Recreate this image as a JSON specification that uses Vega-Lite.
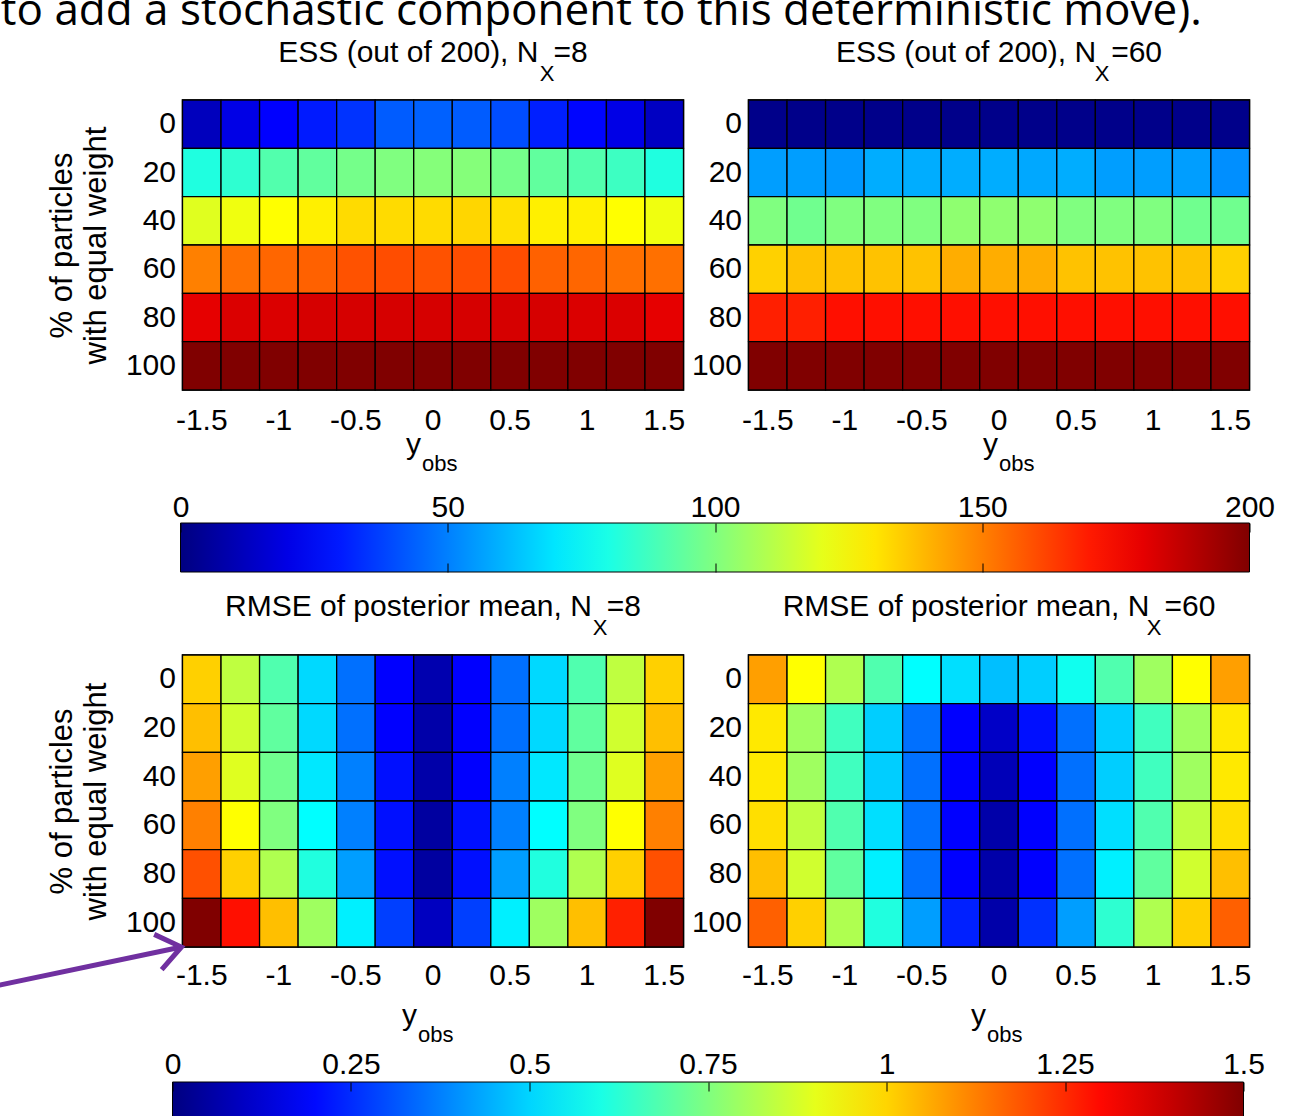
{
  "$schema": "https://vega.github.io/schema/vega-lite/v6.json",
  "background": "white",
  "padding": {"left": -30.5, "top": -10, "right": 0, "bottom": -6},
  "title": {"text": "to add a stochastic component to this deterministic move).", "anchor": "start", "frame": "bounds", "font": "Open Sans", "fontSize": 44, "fontWeight": "normal", "color": "black", "offset": 3, "dx": 31},
  "columns": 2,
  "bounds": "flush",
  "spacing": {"row": 265, "column": 65},
  "resolve": {"scale": {"color": "independent", "x": "independent", "y": "independent"}},
  "config": {
    "font": "Liberation Sans",
    "view": {"stroke": "black", "strokeWidth": 1.5},
    "axis": {"domain": false, "ticks": false, "grid": false, "labelFont": "Liberation Sans", "labelFontSize": 30, "labelColor": "black", "titleFont": "Liberation Sans", "titleFontWeight": "normal", "titleColor": "black", "labelAngle": 0, "labelOverlap": false},
    "axisY": {"labelPadding": 7},
    "title": {"font": "Liberation Sans", "fontSize": 30, "fontWeight": "normal", "color": "black"},
    "legend": {"padding": 0, "labelFont": "Liberation Sans", "labelFontSize": 30, "labelColor": "black"}
  },
  "datasets": {
    "ess8": [
      {"x":-1.5,"p":0,"v":12},{"x":-1.25,"p":0,"v":20},{"x":-1,"p":0,"v":25},{"x":-0.75,"p":0,"v":30},{"x":-0.5,"p":0,"v":35},{"x":-0.25,"p":0,"v":43},{"x":0,"p":0,"v":44},{"x":0.25,"p":0,"v":43},{"x":0.5,"p":0,"v":40},{"x":0.75,"p":0,"v":31},{"x":1,"p":0,"v":26},{"x":1.25,"p":0,"v":20},{"x":1.5,"p":0,"v":13},
      {"x":-1.5,"p":20,"v":81},{"x":-1.25,"p":20,"v":84},{"x":-1,"p":20,"v":91},{"x":-0.75,"p":20,"v":94},{"x":-0.5,"p":20,"v":98},{"x":-0.25,"p":20,"v":100},{"x":0,"p":20,"v":101},{"x":0.25,"p":20,"v":101},{"x":0.5,"p":20,"v":98},{"x":0.75,"p":20,"v":94},{"x":1,"p":20,"v":91},{"x":1.25,"p":20,"v":87},{"x":1.5,"p":20,"v":81},
      {"x":-1.5,"p":40,"v":119},{"x":-1.25,"p":40,"v":122},{"x":-1,"p":40,"v":125},{"x":-0.75,"p":40,"v":128},{"x":-0.5,"p":40,"v":132},{"x":-0.25,"p":40,"v":132},{"x":0,"p":40,"v":132},{"x":0.25,"p":40,"v":133},{"x":0.5,"p":40,"v":131},{"x":0.75,"p":40,"v":128},{"x":1,"p":40,"v":128},{"x":1.25,"p":40,"v":125},{"x":1.5,"p":40,"v":122},
      {"x":-1.5,"p":60,"v":150},{"x":-1.25,"p":60,"v":153},{"x":-1,"p":60,"v":155},{"x":-0.75,"p":60,"v":156},{"x":-0.5,"p":60,"v":159},{"x":-0.25,"p":60,"v":160},{"x":0,"p":60,"v":159},{"x":0.25,"p":60,"v":160},{"x":0.5,"p":60,"v":160},{"x":0.75,"p":60,"v":156},{"x":1,"p":60,"v":155},{"x":1.25,"p":60,"v":153},{"x":1.5,"p":60,"v":153},
      {"x":-1.5,"p":80,"v":180},{"x":-1.25,"p":80,"v":182},{"x":-1,"p":80,"v":182},{"x":-0.75,"p":80,"v":183},{"x":-0.5,"p":80,"v":183},{"x":-0.25,"p":80,"v":183},{"x":0,"p":80,"v":183},{"x":0.25,"p":80,"v":183},{"x":0.5,"p":80,"v":183},{"x":0.75,"p":80,"v":183},{"x":1,"p":80,"v":182},{"x":1.25,"p":80,"v":182},{"x":1.5,"p":80,"v":180},
      {"x":-1.5,"p":100,"v":200},{"x":-1.25,"p":100,"v":200},{"x":-1,"p":100,"v":200},{"x":-0.75,"p":100,"v":200},{"x":-0.5,"p":100,"v":200},{"x":-0.25,"p":100,"v":200},{"x":0,"p":100,"v":200},{"x":0.25,"p":100,"v":200},{"x":0.5,"p":100,"v":200},{"x":0.75,"p":100,"v":200},{"x":1,"p":100,"v":200},{"x":1.25,"p":100,"v":200},{"x":1.5,"p":100,"v":200}
    ],
    "ess60": [
      {"x":-1.5,"p":0,"v":2},{"x":-1.25,"p":0,"v":2},{"x":-1,"p":0,"v":2},{"x":-0.75,"p":0,"v":2},{"x":-0.5,"p":0,"v":2},{"x":-0.25,"p":0,"v":2},{"x":0,"p":0,"v":2},{"x":0.25,"p":0,"v":2},{"x":0.5,"p":0,"v":2},{"x":0.75,"p":0,"v":2},{"x":1,"p":0,"v":2},{"x":1.25,"p":0,"v":2},{"x":1.5,"p":0,"v":2},
      {"x":-1.5,"p":20,"v":56},{"x":-1.25,"p":20,"v":56},{"x":-1,"p":20,"v":55},{"x":-0.75,"p":20,"v":59},{"x":-0.5,"p":20,"v":59},{"x":-0.25,"p":20,"v":59},{"x":0,"p":20,"v":59},{"x":0.25,"p":20,"v":58},{"x":0.5,"p":20,"v":59},{"x":0.75,"p":20,"v":56},{"x":1,"p":20,"v":56},{"x":1.25,"p":20,"v":56},{"x":1.5,"p":20,"v":53},
      {"x":-1.5,"p":40,"v":100},{"x":-1.25,"p":40,"v":97},{"x":-1,"p":40,"v":100},{"x":-0.75,"p":40,"v":100},{"x":-0.5,"p":40,"v":100},{"x":-0.25,"p":40,"v":103},{"x":0,"p":40,"v":103},{"x":0.25,"p":40,"v":103},{"x":0.5,"p":40,"v":100},{"x":0.75,"p":40,"v":100},{"x":1,"p":40,"v":100},{"x":1.25,"p":40,"v":97},{"x":1.5,"p":40,"v":97},
      {"x":-1.5,"p":60,"v":134},{"x":-1.25,"p":60,"v":137},{"x":-1,"p":60,"v":137},{"x":-0.75,"p":60,"v":137},{"x":-0.5,"p":60,"v":137},{"x":-0.25,"p":60,"v":141},{"x":0,"p":60,"v":141},{"x":0.25,"p":60,"v":141},{"x":0.5,"p":60,"v":137},{"x":0.75,"p":60,"v":137},{"x":1,"p":60,"v":137},{"x":1.25,"p":60,"v":137},{"x":1.5,"p":60,"v":134},
      {"x":-1.5,"p":80,"v":169},{"x":-1.25,"p":80,"v":169},{"x":-1,"p":80,"v":172},{"x":-0.75,"p":80,"v":172},{"x":-0.5,"p":80,"v":172},{"x":-0.25,"p":80,"v":172},{"x":0,"p":80,"v":172},{"x":0.25,"p":80,"v":172},{"x":0.5,"p":80,"v":172},{"x":0.75,"p":80,"v":172},{"x":1,"p":80,"v":172},{"x":1.25,"p":80,"v":172},{"x":1.5,"p":80,"v":172},
      {"x":-1.5,"p":100,"v":200},{"x":-1.25,"p":100,"v":200},{"x":-1,"p":100,"v":200},{"x":-0.75,"p":100,"v":200},{"x":-0.5,"p":100,"v":200},{"x":-0.25,"p":100,"v":200},{"x":0,"p":100,"v":200},{"x":0.25,"p":100,"v":200},{"x":0.5,"p":100,"v":200},{"x":0.75,"p":100,"v":200},{"x":1,"p":100,"v":200},{"x":1.25,"p":100,"v":200},{"x":1.5,"p":100,"v":200}
    ],
    "rmse8": [
      {"x":-1.5,"p":0,"v":1.006},{"x":-1.25,"p":0,"v":0.844},{"x":-1,"p":0,"v":0.68},{"x":-0.75,"p":0,"v":0.506},{"x":-0.5,"p":0,"v":0.352},{"x":-0.25,"p":0,"v":0.188},{"x":0,"p":0,"v":0.07},{"x":0.25,"p":0,"v":0.188},{"x":0.5,"p":0,"v":0.352},{"x":0.75,"p":0,"v":0.506},{"x":1,"p":0,"v":0.68},{"x":1.25,"p":0,"v":0.844},{"x":1.5,"p":0,"v":1.006},
      {"x":-1.5,"p":20,"v":1.031},{"x":-1.25,"p":20,"v":0.869},{"x":-1,"p":20,"v":0.703},{"x":-0.75,"p":20,"v":0.506},{"x":-0.5,"p":20,"v":0.352},{"x":-0.25,"p":20,"v":0.188},{"x":0,"p":20,"v":0.06},{"x":0.25,"p":20,"v":0.188},{"x":0.5,"p":20,"v":0.352},{"x":0.75,"p":20,"v":0.506},{"x":1,"p":20,"v":0.703},{"x":1.25,"p":20,"v":0.869},{"x":1.5,"p":20,"v":1.031},
      {"x":-1.5,"p":40,"v":1.078},{"x":-1.25,"p":40,"v":0.89},{"x":-1,"p":40,"v":0.727},{"x":-0.75,"p":40,"v":0.528},{"x":-0.5,"p":40,"v":0.375},{"x":-0.25,"p":40,"v":0.21},{"x":0,"p":40,"v":0.06},{"x":0.25,"p":40,"v":0.188},{"x":0.5,"p":40,"v":0.375},{"x":0.75,"p":40,"v":0.528},{"x":1,"p":40,"v":0.727},{"x":1.25,"p":40,"v":0.89},{"x":1.5,"p":40,"v":1.078},
      {"x":-1.5,"p":60,"v":1.125},{"x":-1.25,"p":60,"v":0.938},{"x":-1,"p":60,"v":0.75},{"x":-0.75,"p":60,"v":0.563},{"x":-0.5,"p":60,"v":0.375},{"x":-0.25,"p":60,"v":0.21},{"x":0,"p":60,"v":0.047},{"x":0.25,"p":60,"v":0.21},{"x":0.5,"p":60,"v":0.375},{"x":0.75,"p":60,"v":0.563},{"x":1,"p":60,"v":0.75},{"x":1.25,"p":60,"v":0.938},{"x":1.5,"p":60,"v":1.125},
      {"x":-1.5,"p":80,"v":1.195},{"x":-1.25,"p":80,"v":1.006},{"x":-1,"p":80,"v":0.82},{"x":-0.75,"p":80,"v":0.61},{"x":-0.5,"p":80,"v":0.42},{"x":-0.25,"p":80,"v":0.21},{"x":0,"p":80,"v":0.047},{"x":0.25,"p":80,"v":0.21},{"x":0.5,"p":80,"v":0.42},{"x":0.75,"p":80,"v":0.61},{"x":1,"p":80,"v":0.82},{"x":1.25,"p":80,"v":1.006},{"x":1.5,"p":80,"v":1.195},
      {"x":-1.5,"p":100,"v":1.5},{"x":-1.25,"p":100,"v":1.29},{"x":-1,"p":100,"v":1.031},{"x":-0.75,"p":100,"v":0.797},{"x":-0.5,"p":100,"v":0.54},{"x":-0.25,"p":100,"v":0.28},{"x":0,"p":100,"v":0.094},{"x":0.25,"p":100,"v":0.28},{"x":0.5,"p":100,"v":0.54},{"x":0.75,"p":100,"v":0.797},{"x":1,"p":100,"v":1.031},{"x":1.25,"p":100,"v":1.266},{"x":1.5,"p":100,"v":1.5}
    ],
    "rmse60": [
      {"x":-1.5,"p":0,"v":1.078},{"x":-1.25,"p":0,"v":0.938},{"x":-1,"p":0,"v":0.82},{"x":-0.75,"p":0,"v":0.68},{"x":-0.5,"p":0,"v":0.563},{"x":-0.25,"p":0,"v":0.516},{"x":0,"p":0,"v":0.469},{"x":0.25,"p":0,"v":0.49},{"x":0.5,"p":0,"v":0.586},{"x":0.75,"p":0,"v":0.68},{"x":1,"p":0,"v":0.797},{"x":1.25,"p":0,"v":0.938},{"x":1.5,"p":0,"v":1.078},
      {"x":-1.5,"p":20,"v":0.97},{"x":-1.25,"p":20,"v":0.797},{"x":-1,"p":20,"v":0.656},{"x":-0.75,"p":20,"v":0.49},{"x":-0.5,"p":20,"v":0.352},{"x":-0.25,"p":20,"v":0.188},{"x":0,"p":20,"v":0.105},{"x":0.25,"p":20,"v":0.21},{"x":0.5,"p":20,"v":0.352},{"x":0.75,"p":20,"v":0.49},{"x":1,"p":20,"v":0.656},{"x":1.25,"p":20,"v":0.797},{"x":1.5,"p":20,"v":0.97},
      {"x":-1.5,"p":40,"v":0.97},{"x":-1.25,"p":40,"v":0.797},{"x":-1,"p":40,"v":0.656},{"x":-0.75,"p":40,"v":0.49},{"x":-0.5,"p":40,"v":0.352},{"x":-0.25,"p":40,"v":0.188},{"x":0,"p":40,"v":0.082},{"x":0.25,"p":40,"v":0.188},{"x":0.5,"p":40,"v":0.352},{"x":0.75,"p":40,"v":0.49},{"x":1,"p":40,"v":0.656},{"x":1.25,"p":40,"v":0.797},{"x":1.5,"p":40,"v":0.97},
      {"x":-1.5,"p":60,"v":0.984},{"x":-1.25,"p":60,"v":0.844},{"x":-1,"p":60,"v":0.68},{"x":-0.75,"p":60,"v":0.516},{"x":-0.5,"p":60,"v":0.352},{"x":-0.25,"p":60,"v":0.188},{"x":0,"p":60,"v":0.06},{"x":0.25,"p":60,"v":0.188},{"x":0.5,"p":60,"v":0.352},{"x":0.75,"p":60,"v":0.516},{"x":1,"p":60,"v":0.68},{"x":1.25,"p":60,"v":0.844},{"x":1.5,"p":60,"v":0.984},
      {"x":-1.5,"p":80,"v":1.031},{"x":-1.25,"p":80,"v":0.869},{"x":-1,"p":80,"v":0.703},{"x":-0.75,"p":80,"v":0.54},{"x":-0.5,"p":80,"v":0.352},{"x":-0.25,"p":80,"v":0.188},{"x":0,"p":80,"v":0.06},{"x":0.25,"p":80,"v":0.188},{"x":0.5,"p":80,"v":0.352},{"x":0.75,"p":80,"v":0.54},{"x":1,"p":80,"v":0.703},{"x":1.25,"p":80,"v":0.869},{"x":1.5,"p":80,"v":1.031},
      {"x":-1.5,"p":100,"v":1.172},{"x":-1.25,"p":100,"v":1.006},{"x":-1,"p":100,"v":0.82},{"x":-0.75,"p":100,"v":0.61},{"x":-0.5,"p":100,"v":0.42},{"x":-0.25,"p":100,"v":0.234},{"x":0,"p":100,"v":0.06},{"x":0.25,"p":100,"v":0.258},{"x":0.5,"p":100,"v":0.42},{"x":0.75,"p":100,"v":0.63},{"x":1,"p":100,"v":0.82},{"x":1.25,"p":100,"v":1.006},{"x":1.5,"p":100,"v":1.172}
    ],
    "arrowLine": [{"ax": -2.935, "ay": 127.3}, {"ax": -1.632, "ay": 110.0}],
    "arrowHead": [{"ax": -1.632, "ay": 110.0}]
  },
  "concat": [
    {
      "width": 501, "height": 290,
      "title": {"text": "ESS (out of 200), N\u2002=8", "offset": -6},
      "data": {"name": "ess8"},
      "resolve": {"scale": {"x": "independent", "y": "independent"}, "axis": {"x": "independent", "y": "independent"}},
      "layer": [
        {
          "mark": {"type": "rect", "stroke": "black", "strokeWidth": 1.3},
          "encoding": {
            "x": {"field": "x", "type": "ordinal", "axis": {"values": [-1.5, -1, -0.5, 0, 0.5, 1, 1.5], "labelPadding": 15, "title": "y", "titleFontSize": 30, "titleAlign": "right", "titleBaseline": "alphabetic", "titleX": 238, "titleY": 63}},
            "y": {"field": "p", "type": "ordinal", "axis": {"title": ["% of particles", "with equal weight"], "titleFontSize": 31, "titleLineHeight": 34, "titlePadding": 13}},
            "color": {"field": "v", "type": "quantitative",
              "scale": {"domain": [0, 25, 75, 125, 175, 200], "range": ["#000080", "#0000ff", "#00ffff", "#ffff00", "#ff0000", "#800000"], "interpolate": "rgb"},
              "legend": {"orient": "none", "direction": "horizontal", "title": null, "legendX": -2, "legendY": 423, "gradientLength": 1069, "gradientThickness": 49, "gradientStrokeColor": "black", "gradientStrokeWidth": 1, "values": [0, 50, 100, 150, 200], "labelExpr": "''"}}
          }
        },
        {
          "mark": {"type": "rect", "opacity": 0},
          "encoding": {
            "x": {"field": "x", "type": "ordinal", "axis": {"orient": "bottom", "labels": false, "title": "obs", "titleFontSize": 22, "titleAlign": "left", "titleBaseline": "alphabetic", "titleX": 239, "titleY": 80}},
            "y": {"field": "p", "type": "ordinal", "axis": {"orient": "left", "labels": false, "title": "X", "titleAngle": 0, "titleFontSize": 22, "titleAlign": "center", "titleBaseline": "alphabetic", "titleX": 364, "titleY": -20}}
          }
        },
        {
          "mark": {"type": "point", "opacity": 0},
          "encoding": {
            "x": {"field": "v", "type": "quantitative", "scale": {"domain": [0, 200], "range": [-2, 1067], "nice": false, "zero": false}, "axis": {"orient": "top", "offset": -423, "values": [0, 50, 100, 150, 200], "format": "d", "title": null, "ticks": true, "tickSize": -9, "tickColor": "black", "tickWidth": 1, "labelPadding": 10, "labelFlush": false, "domain": false, "zindex": 3}},
            "y": {"field": "p", "type": "quantitative", "axis": null}
          }
        },
        {
          "mark": {"type": "point", "opacity": 0},
          "encoding": {
            "x": {"field": "v", "type": "quantitative", "scale": {"domain": [0, 200], "range": [-2, 1067], "nice": false, "zero": false}, "axis": {"orient": "bottom", "offset": 182, "values": [50, 100, 150], "labels": false, "title": null, "ticks": true, "tickSize": -9, "tickColor": "black", "tickWidth": 1, "domain": false, "zindex": 3}},
            "y": {"field": "p", "type": "quantitative", "axis": null}
          }
        }
      ]
    },
    {
      "width": 501, "height": 290,
      "title": {"text": "ESS (out of 200), N\u2002=60", "offset": -6},
      "data": {"name": "ess60"},
      "resolve": {"axis": {"x": "independent", "y": "independent"}},
      "layer": [
        {
          "mark": {"type": "rect", "stroke": "black", "strokeWidth": 1.3},
          "encoding": {
            "x": {"field": "x", "type": "ordinal", "axis": {"values": [-1.5, -1, -0.5, 0, 0.5, 1, 1.5], "labelPadding": 15, "title": "y", "titleFontSize": 30, "titleAlign": "right", "titleBaseline": "alphabetic", "titleX": 249, "titleY": 63}},
            "y": {"field": "p", "type": "ordinal", "axis": {"title": null}},
            "color": {"field": "v", "type": "quantitative",
              "scale": {"domain": [0, 25, 75, 125, 175, 200], "range": ["#000080", "#0000ff", "#00ffff", "#ffff00", "#ff0000", "#800000"], "interpolate": "rgb"},
              "legend": null}
          }
        },
        {
          "mark": {"type": "rect", "opacity": 0},
          "encoding": {
            "x": {"field": "x", "type": "ordinal", "axis": {"orient": "bottom", "labels": false, "title": "obs", "titleFontSize": 22, "titleAlign": "left", "titleBaseline": "alphabetic", "titleX": 250, "titleY": 80}},
            "y": {"field": "p", "type": "ordinal", "axis": {"orient": "left", "labels": false, "title": "X", "titleAngle": 0, "titleFontSize": 22, "titleAlign": "center", "titleBaseline": "alphabetic", "titleX": 353, "titleY": -20}}
          }
        }
      ]
    },
    {
      "width": 501, "height": 292,
      "title": {"text": "RMSE of posterior mean, N\u2002=8", "offset": -6},
      "resolve": {"scale": {"x": "independent", "y": "independent"}, "axis": {"x": "independent", "y": "independent"}},
      "layer": [
        {
          "data": {"name": "rmse8"},
          "mark": {"type": "rect", "stroke": "black", "strokeWidth": 1.3},
          "encoding": {
            "x": {"field": "x", "type": "ordinal", "axis": {"values": [-1.5, -1, -0.5, 0, 0.5, 1, 1.5], "labelPadding": 13, "title": "y", "titleFontSize": 30, "titleAlign": "right", "titleBaseline": "alphabetic", "titleX": 234, "titleY": 77}},
            "y": {"field": "p", "type": "ordinal", "axis": {"title": ["% of particles", "with equal weight"], "titleFontSize": 31, "titleLineHeight": 34, "titlePadding": 13}},
            "color": {"field": "v", "type": "quantitative",
              "scale": {"domain": [0, 0.1875, 0.5625, 0.9375, 1.3125, 1.5], "range": ["#000080", "#0000ff", "#00ffff", "#ffff00", "#ff0000", "#800000"], "interpolate": "rgb"},
              "legend": {"orient": "none", "direction": "horizontal", "title": null, "legendX": -10, "legendY": 427, "gradientLength": 1071, "gradientThickness": 40, "gradientStrokeColor": "black", "gradientStrokeWidth": 1, "values": [0, 0.25, 0.5, 0.75, 1, 1.25, 1.5], "labelExpr": "''"}}
          }
        },
        {
          "data": {"name": "rmse8"},
          "mark": {"type": "rect", "opacity": 0},
          "encoding": {
            "x": {"field": "x", "type": "ordinal", "axis": {"orient": "bottom", "labels": false, "title": "obs", "titleFontSize": 22, "titleAlign": "left", "titleBaseline": "alphabetic", "titleX": 235, "titleY": 94}},
            "y": {"field": "p", "type": "ordinal", "axis": {"orient": "left", "labels": false, "title": "X", "titleAngle": 0, "titleFontSize": 22, "titleAlign": "center", "titleBaseline": "alphabetic", "titleX": 417, "titleY": -21}}
          }
        },
        {
          "data": {"name": "rmse8"},
          "mark": {"type": "point", "opacity": 0},
          "encoding": {
            "x": {"field": "v", "type": "quantitative", "scale": {"domain": [0, 1.5], "range": [-10, 1061], "nice": false, "zero": false}, "axis": {"orient": "top", "offset": -427, "values": [0, 0.25, 0.5, 0.75, 1, 1.25, 1.5], "format": ".2~f", "title": null, "ticks": true, "tickSize": -9, "tickColor": "black", "tickWidth": 1, "labelPadding": 12, "labelFlush": false, "domain": false, "zindex": 3}},
            "y": {"field": "p", "type": "quantitative", "axis": null}
          }
        },
        {
          "data": {"name": "arrowLine"},
          "mark": {"type": "line", "color": "#7030A0", "strokeWidth": 5, "strokeCap": "butt", "clip": false},
          "encoding": {
            "x": {"field": "ax", "type": "quantitative", "scale": {"domain": [-1.625, 1.625], "nice": false, "zero": false}, "axis": null},
            "y": {"field": "ay", "type": "quantitative", "scale": {"domain": [-10, 110], "nice": false, "zero": false, "reverse": true}, "axis": null}
          }
        },
        {
          "data": {"name": "arrowHead"},
          "mark": {"type": "point", "shape": "M -1 -0.75 L 0 0 L -1 0.75", "filled": false, "color": "#7030A0", "strokeWidth": 5, "size": 2304, "angle": -12, "opacity": 1, "clip": false},
          "encoding": {
            "x": {"field": "ax", "type": "quantitative", "scale": {"domain": [-1.625, 1.625], "nice": false, "zero": false}, "axis": null},
            "y": {"field": "ay", "type": "quantitative", "scale": {"domain": [-10, 110], "nice": false, "zero": false, "reverse": true}, "axis": null}
          }
        }
      ]
    },
    {
      "width": 501, "height": 292,
      "title": {"text": "RMSE of posterior mean, N\u2002=60", "offset": -6},
      "data": {"name": "rmse60"},
      "resolve": {"axis": {"x": "independent", "y": "independent"}},
      "layer": [
        {
          "mark": {"type": "rect", "stroke": "black", "strokeWidth": 1.3},
          "encoding": {
            "x": {"field": "x", "type": "ordinal", "axis": {"values": [-1.5, -1, -0.5, 0, 0.5, 1, 1.5], "labelPadding": 13, "title": "y", "titleFontSize": 30, "titleAlign": "right", "titleBaseline": "alphabetic", "titleX": 237, "titleY": 77}},
            "y": {"field": "p", "type": "ordinal", "axis": {"title": null}},
            "color": {"field": "v", "type": "quantitative",
              "scale": {"domain": [0, 0.1875, 0.5625, 0.9375, 1.3125, 1.5], "range": ["#000080", "#0000ff", "#00ffff", "#ffff00", "#ff0000", "#800000"], "interpolate": "rgb"},
              "legend": null}
          }
        },
        {
          "mark": {"type": "rect", "opacity": 0},
          "encoding": {
            "x": {"field": "x", "type": "ordinal", "axis": {"orient": "bottom", "labels": false, "title": "obs", "titleFontSize": 22, "titleAlign": "left", "titleBaseline": "alphabetic", "titleX": 238, "titleY": 94}},
            "y": {"field": "p", "type": "ordinal", "axis": {"orient": "left", "labels": false, "title": "X", "titleAngle": 0, "titleFontSize": 22, "titleAlign": "center", "titleBaseline": "alphabetic", "titleX": 405, "titleY": -21}}
          }
        }
      ]
    }
  ]
}
